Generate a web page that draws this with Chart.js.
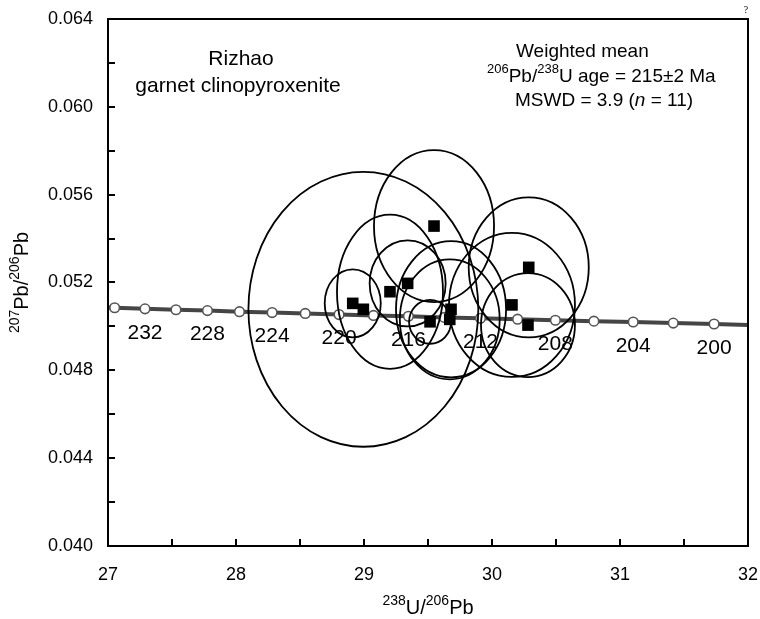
<!DOCTYPE html>
<html>
<head>
<meta charset="utf-8">
<script src="https://cdn.jsdelivr.net/npm/chart.js@4"></script>
<style>
  html, body { margin: 0; padding: 0; background: #fff; }
</style>
</head>
<body>
<canvas id="c" width="760" height="619"></canvas>
<script>
// concordia curve (ages in Ma)
const concAges = [234, 232, 230, 228, 226, 224, 222, 220, 218, 216, 214, 212, 210, 208, 206, 204, 202, 200];
const concX = [27.052, 27.289, 27.531, 27.777, 28.027, 28.282, 28.541, 28.805, 29.074, 29.347, 29.626, 29.910, 30.200, 30.495, 30.796, 31.103, 31.416, 31.735];
const concY = [0.05085, 0.05080, 0.05076, 0.05072, 0.05067, 0.05063, 0.05059, 0.05054, 0.05050, 0.05046, 0.05041, 0.05037, 0.05033, 0.05028, 0.05024, 0.05020, 0.05015, 0.05011];
const concEndX = [27, 32];
const concEndY = [0.05086, 0.05007];
const ageLabels = [232, 228, 224, 220, 216, 212, 208, 204, 200];

// zircon spots: centres and ellipse half-axes
const spotX = [28.912, 28.995, 29.203, 29.341, 29.516, 29.680, 29.670, 30.156, 30.287, 30.281, 29.547];
const spotY = [0.05105, 0.05078, 0.05158, 0.05196, 0.05021, 0.05078, 0.05032, 0.05098, 0.05269, 0.05006, 0.05457];
const errX = [0.219, 0.898, 0.414, 0.297, 0.164, 0.430, 0.390, 0.492, 0.469, 0.367, 0.469];
const errY = [0.00155, 0.00626, 0.00351, 0.00196, 0.00100, 0.00310, 0.00273, 0.00328, 0.00319, 0.00237, 0.00346];

// axis ticks
const xMin = 27, xMax = 32, xStep = 0.5;
const yMin = 0.040, yMax = 0.064, yStep = 0.002;

const FAM = '"Liberation Sans", Arial, sans-serif';

function rich(ctx, parts, x, y, size, align) {
  const supSize = Math.round(size * 0.7);
  const fontFor = k => (k === 2 ? 'italic ' : '') + (k === 1 ? supSize : size) + 'px ' + FAM;
  let w = 0;
  for (const [t, k] of parts) { ctx.font = fontFor(k); w += ctx.measureText(t).width; }
  let cx = align === 'center' ? x - w / 2 : x;
  ctx.textAlign = 'left';
  ctx.textBaseline = 'alphabetic';
  for (const [t, k] of parts) {
    ctx.font = fontFor(k);
    ctx.fillText(t, cx, k === 1 ? y - size * 0.45 : y);
    cx += ctx.measureText(t).width;
  }
}

const lineData = [{ x: concEndX[0], y: concEndY[0] }]
  .concat(concX.map((x, i) => ({ x: x, y: concY[i] })))
  .concat([{ x: concEndX[1], y: concEndY[1] }]);
const lineRadius = lineData.map((p, i) => (i === 0 || i === lineData.length - 1) ? 0 : 4.8);

const overlay = {
  id: 'overlay',
  afterDatasetDraw(chart, args) {
    if (args.index !== 1) return;
    const ctx = chart.ctx, xs = chart.scales.x, ys = chart.scales.y;
    ctx.save();
    // age labels under the concordia
    ctx.fillStyle = '#000';
    ctx.font = '21px ' + FAM;
    ctx.textAlign = 'center';
    ctx.textBaseline = 'middle';
    ageLabels.forEach(a => {
      const i = concAges.indexOf(a);
      ctx.fillText(String(a), xs.getPixelForValue(concX[i]), ys.getPixelForValue(concY[i]) + 24);
    });
    // error ellipses
    ctx.strokeStyle = '#000';
    ctx.lineWidth = 1.8;
    spotX.forEach((x, i) => {
      const cx = xs.getPixelForValue(x), cy = ys.getPixelForValue(spotY[i]);
      const rx = Math.abs(xs.getPixelForValue(x + errX[i]) - cx);
      const ry = Math.abs(ys.getPixelForValue(spotY[i] + errY[i]) - cy);
      ctx.beginPath();
      ctx.ellipse(cx, cy, rx, ry, 0, 0, Math.PI * 2);
      ctx.stroke();
    });
    ctx.restore();
  },
  afterDraw(chart) {
    const ctx = chart.ctx, a = chart.chartArea, xs = chart.scales.x, ys = chart.scales.y;
    ctx.save();
    // frame
    ctx.strokeStyle = '#000';
    ctx.lineWidth = 2;
    ctx.strokeRect(a.left, a.top, a.right - a.left, a.bottom - a.top);
    // inward ticks
    ctx.beginPath();
    for (let v = xMin + xStep; v < xMax - 1e-9; v += xStep) {
      const px = Math.round(xs.getPixelForValue(v));
      ctx.moveTo(px, a.bottom);
      ctx.lineTo(px, a.bottom - 7);
    }
    for (let v = yMin + yStep; v < yMax - 1e-9; v += yStep) {
      const py = Math.round(ys.getPixelForValue(v));
      ctx.moveTo(a.left, py);
      ctx.lineTo(a.left + 7, py);
    }
    ctx.stroke();

    ctx.fillStyle = '#000';
    // sample name
    ctx.font = '21px ' + FAM;
    ctx.textAlign = 'center';
    ctx.textBaseline = 'alphabetic';
    ctx.fillText('Rizhao', 241, 65);
    ctx.fillText('garnet clinopyroxenite', 238, 92);
    // age summary
    rich(ctx, [['Weighted mean', 0]], 516, 57, 19, 'left');
    rich(ctx, [['206', 1], ['Pb/', 0], ['238', 1], ['U age = 215\u00b12 Ma', 0]], 487, 82, 19, 'left');
    rich(ctx, [['MSWD = 3.9 (', 0], ['n', 2], [' = 11)', 0]], 515, 106, 19, 'left');
    // axis titles
    rich(ctx, [['238', 1], ['U/', 0], ['206', 1], ['Pb', 0]], (a.left + a.right) / 2, 614, 20, 'center');
    ctx.save();
    ctx.translate(28, (a.top + a.bottom) / 2);
    ctx.rotate(-Math.PI / 2);
    rich(ctx, [['207', 1], ['Pb/', 0], ['206', 1], ['Pb', 0]], 0, 0, 20, 'center');
    ctx.restore();
    // stray mark at the top right corner
    ctx.font = '10px "Liberation Serif", serif';
    ctx.textAlign = 'center';
    ctx.fillText('?', 746, 13);
    ctx.restore();
  }
};

new Chart(document.getElementById('c'), {
  type: 'scatter',
  data: {
    datasets: [
      {
        label: 'spots',
        data: spotX.map((x, i) => ({ x: x, y: spotY[i] })),
        pointStyle: 'rect',
        pointRadius: 8.2,
        backgroundColor: '#000',
        borderWidth: 0
      },
      {
        label: 'concordia',
        data: lineData,
        showLine: true,
        borderColor: '#454545',
        borderWidth: 4,
        pointRadius: lineRadius,
        pointBackgroundColor: '#fff',
        pointBorderColor: '#555',
        pointBorderWidth: 1.6
      }
    ]
  },
  options: {
    responsive: false,
    animation: false,
    devicePixelRatio: 1,
    layout: { padding: { top: 19, right: 12, left: 0, bottom: 0 } },
    plugins: { legend: { display: false }, tooltip: { enabled: false } },
    scales: {
      x: {
        type: 'linear', min: xMin, max: xMax,
        border: { display: false },
        grid: { display: false, drawTicks: false },
        ticks: {
          stepSize: xStep, padding: 18, color: '#000', autoSkip: false, maxRotation: 0,
          font: { family: FAM, size: 18 },
          callback: v => Number.isInteger(v) ? String(v) : ''
        },
        afterFit: s => { s.height = 73; s.paddingLeft = 0; s.paddingRight = 0; }
      },
      y: {
        type: 'linear', min: yMin, max: yMax,
        border: { display: false },
        grid: { display: false, drawTicks: false },
        ticks: {
          stepSize: yStep, padding: 15, color: '#000', autoSkip: false,
          font: { family: FAM, size: 18 },
          callback: v => Math.round(v * 1000) % 4 === 0 ? v.toFixed(3) : ''
        },
        afterFit: s => { s.width = 108; s.paddingTop = 0; s.paddingBottom = 0; }
      }
    }
  },
  plugins: [overlay]
});
</script>
</body>
</html>
